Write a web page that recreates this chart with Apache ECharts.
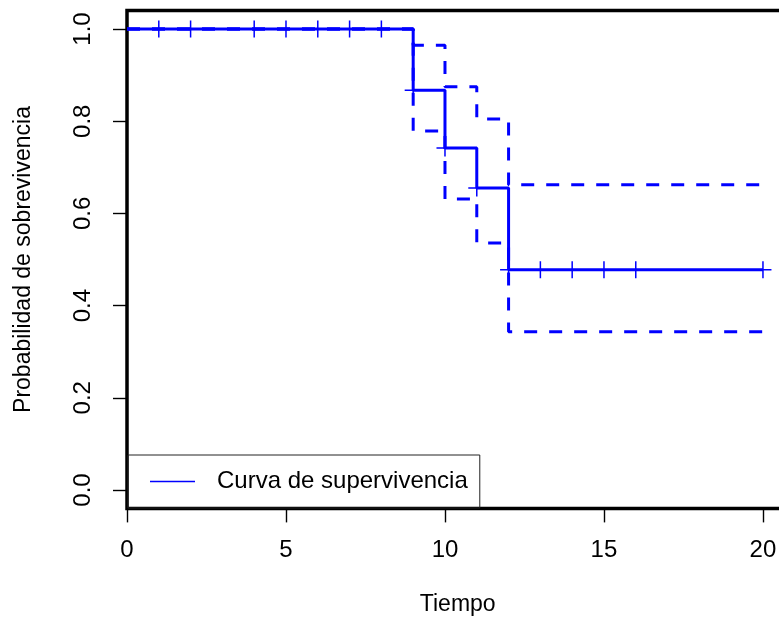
<!DOCTYPE html>
<html>
<head>
<meta charset="utf-8">
<script src="https://cdn.jsdelivr.net/npm/echarts@6/dist/echarts.min.js"></script>
<style>
  html, body { margin: 0; padding: 0; background: #fff; }
  #chart { width: 779px; height: 618px; }
</style>
</head>
<body>
<div id="chart"></div>
<script>
// Kaplan-Meier estimate: event times and survival after each step
const stepTimes = [0, 9, 10, 11, 12, 20];
const survival  = [1, 0.867, 0.742, 0.655, 0.478, 0.478];
// 95% confidence band
const upperCI   = [1, 0.965, 0.875, 0.805, 0.662, 0.662];
const lowerCI   = [1, 0.779, 0.631, 0.536, 0.343, 0.343];
// Censored observations
const censorTimes = [1, 2, 4, 5, 6, 7, 8, 9, 10, 11, 12, 13, 14, 15, 16, 20];
const censorSurv  = [1, 1, 1, 1, 1, 1, 1, 0.867, 0.742, 0.655, 0.478, 0.478, 0.478, 0.478, 0.478, 0.478];
// Axis ticks
const xTicks = [0, 5, 10, 15, 20];
const yTicks = [0, 0.2, 0.4, 0.6, 0.8, 1.0];

const FONT = "'Liberation Sans', Arial, sans-serif";
const BLUE = '#0000ff';
const pair = (xs, ys) => xs.map((x, i) => [x, ys[i]]);

// plus-shaped censor mark
const PLUS = 'path://M7.75,0 H9.25 V17 H7.75 Z M0,7.75 H17 V9.25 H0 Z';

const chart = echarts.init(document.getElementById('chart'), null, { renderer: 'canvas' });

chart.setOption({
  animation: false,
  backgroundColor: '#fff',
  textStyle: { fontFamily: FONT, color: '#000' },
  grid: {
    left: 127, top: 10.6, width: 661.4, height: 497.8,
    show: true, borderColor: '#000', borderWidth: 3.5,
    backgroundColor: 'transparent',
    outerBoundsMode: 'none', containLabel: false
  },
  legend: {
    left: 128, top: 455,
    padding: [14.5, 12, 14.5, 22],
    borderColor: '#222', borderWidth: 1,
    backgroundColor: 'transparent',
    icon: 'rect', itemWidth: 45, itemHeight: 1.3,
    textStyle: { fontFamily: FONT, fontSize: 24, color: '#000', lineHeight: 24, padding: [0, 0, 0, 17] },
    data: [{ name: 'Curva de supervivencia', itemStyle: { color: BLUE } }]
  },
  xAxis: {
    type: 'value', min: 0, max: 20.8, position: 'bottom',
    name: 'Tiempo', nameLocation: 'middle', nameGap: 85,
    nameTextStyle: { fontFamily: FONT, fontSize: 23, color: '#000' },
    axisLine: { show: false, onZero: false },
    axisTick: { show: true, inside: false, customValues: xTicks, length: 14, lineStyle: { color: '#000', width: 1.4 } },
    axisLabel: { customValues: xTicks, fontSize: 24, color: '#000', fontFamily: FONT, margin: 30 },
    splitLine: { show: false }
  },
  yAxis: {
    type: 'value', min: -0.04, max: 1.04, position: 'left',
    name: 'Probabilidad de sobrevivencia', nameLocation: 'middle', nameGap: 92, nameRotate: 90,
    nameTextStyle: { fontFamily: FONT, fontSize: 23, color: '#000' },
    axisLine: { show: false, onZero: false },
    axisTick: { show: true, inside: false, customValues: yTicks, length: 14, lineStyle: { color: '#000', width: 1.4 } },
    axisLabel: {
      customValues: yTicks, rotate: 90, fontSize: 24, color: '#000', fontFamily: FONT, margin: 32,
      formatter: v => v.toFixed(1)
    },
    splitLine: { show: false }
  },
  series: [
    {
      name: 'IC superior', type: 'line', step: 'end', symbol: 'none', silent: true,
      data: pair(stepTimes, upperCI),
      lineStyle: { color: BLUE, width: 3, type: [13, 12] }, z: 2
    },
    {
      name: 'IC inferior', type: 'line', step: 'end', symbol: 'none', silent: true,
      data: pair(stepTimes, lowerCI),
      lineStyle: { color: BLUE, width: 3, type: [13, 12] }, z: 2
    },
    {
      name: 'Curva de supervivencia', type: 'line', step: 'end', symbol: 'none',
      data: pair(stepTimes, survival),
      itemStyle: { color: BLUE },
      lineStyle: { color: BLUE, width: 3 }, z: 3
    },
    {
      name: 'Censura', type: 'scatter', silent: true,
      data: pair(censorTimes, censorSurv),
      symbol: PLUS, symbolSize: 17,
      itemStyle: { color: BLUE, opacity: 1 }, z: 4
    }
  ]
});
</script>
</body>
</html>
